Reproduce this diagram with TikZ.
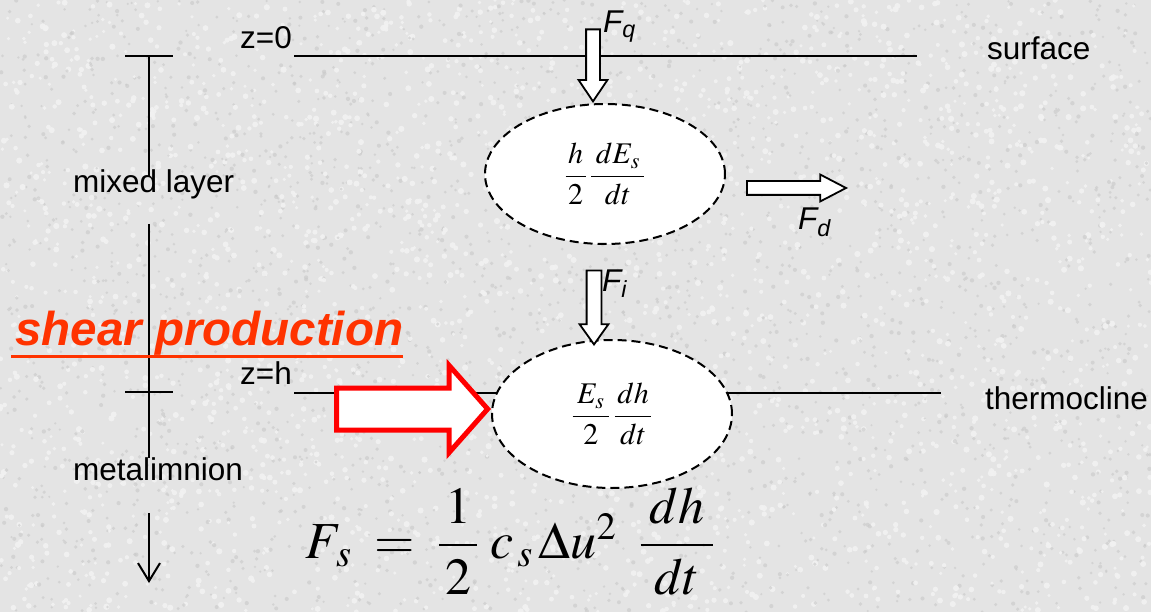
\documentclass[tikz,border=0pt]{standalone}
\usepackage{amsmath}
\usepackage{mathptmx}
\usepackage[no-math]{fontspec}
\setmainfont{Liberation Sans}
\usepackage{tikz}
\usetikzlibrary{arrows.meta,positioning,shapes.geometric,shapes.arrows}
\definecolor{paper}{HTML}{E4E4E4}
\definecolor{speckdark}{HTML}{C9C9C9}
\definecolor{specklight}{HTML}{F2F2F2}
\definecolor{ink}{HTML}{000000}
\definecolor{shearred}{HTML}{FF3300}
\definecolor{arrowred}{HTML}{FF0000}
\newcommand{\padded}[2]{\hspace{#1}#2\hspace{#1}}
\tikzset{
  txt/.style={font=\fontsize{31.5}{36}\selectfont,inner sep=0pt,text=ink},
  flux/.style={txt,font=\fontsize{31.5}{36}\selectfont\itshape},
  level/.style={draw=ink,line width=2.8pt},
  bar/.style={draw=ink,line width=2.4pt},
  budget/.style={ellipse,draw=ink,fill=white,line width=2pt,dash pattern=on 9pt off 5pt,minimum width=240pt,inner sep=0pt,font=\fontsize{30}{34}\selectfont},
  hollow/.style={single arrow,draw=ink,fill=white,line width=1.8pt,inner xsep=0pt,inner ysep=6pt,minimum width=0pt,single arrow head extend=7.5pt,anchor=tip},
  sheararrow/.style={hollow,draw=arrowred,line width=5pt,inner ysep=18.5pt,single arrow head extend=22.5pt,single arrow tip angle=97,minimum height=151pt}
}

\begin{document}
\begin{tikzpicture}[x=1pt,y=-1pt]
  \fill[paper] (0,0) rectangle (1151,612);
  \useasboundingbox (0,0) rectangle (1151,612);
  % speckled paper
  \pgfmathsetseed{17}
  \foreach \i in {1,...,2600} {
    \fill[speckdark,opacity=0.6] (rnd*1151,rnd*612) circle (1.2+rnd);
    \fill[specklight,opacity=0.9] (rnd*1151,rnd*612) circle (1.6+1.5*rnd);
  }

  % surface and thermocline
  \node[txt,anchor=base west] (z0) at (240,49) {z=0};
  \node[txt,anchor=base west] (surf) at (987,60) {surface};
  \node[txt,anchor=base west] (zh) at (240,384) {z=h};
  \node[txt,anchor=base west] (thermo) at (985,409) {thermocline};
  \coordinate (surfend) at (917,56);
  \coordinate (thermoend) at (941,393);
  \draw[level] ([xshift=2pt]z0.east |- surfend) -- (surfend);
  \draw[level] ([xshift=2pt]zh.east |- thermoend) -- (thermoend);

  % depth scale on the left
  \coordinate (top) at (149,56);
  \coordinate (mid) at (149,392);
  \draw[bar] ([xshift=-24pt]top) -- ([xshift=24pt]top);
  \draw[bar] ([xshift=-24pt]mid) -- ([xshift=24pt]mid);
  \draw[bar] (top) -- (149,176);
  \draw[bar] (149,224) -- (149,458);
  \draw[bar,line width=2pt,-{Straight Barb[length=18pt,width=22pt]}] (149,513) -- (149,583);
  \node[txt,anchor=base west] (mixed) at (73,193) {mixed layer};
  \node[txt,anchor=base west] (meta) at (73,480) {metalimnion};

  % energy budgets
  \node[budget,minimum height=140pt] (upper) at (605,174) {$\dfrac{\padded{2.5pt}{h}}{2}\,\dfrac{\padded{4.5pt}{dE_s}}{dt}$};
  \node[budget,minimum height=148pt] (lower) at (612,414) {$\dfrac{\padded{4.5pt}{E_s}}{2}\,\dfrac{\padded{2.5pt}{dh}}{dt}$};

  % fluxes
  \node[hollow,rotate=-90,minimum height=72pt,single arrow tip angle=68] (fq) at ([xshift=-12pt]upper.north) {};
  \node[hollow,minimum height=99pt,single arrow head extend=6.5pt,single arrow tip angle=55] (fd) at ([xshift=122pt,yshift=-14pt]upper.east) {};
  \node[hollow,rotate=-90,minimum height=74pt,inner ysep=6.5pt,single arrow head extend=7pt,single arrow tip angle=71] (fi) at ([xshift=-18pt,yshift=-7pt]lower.north) {};
  \node[sheararrow] (fs) at ([yshift=5pt]lower.west) {};
  \node[flux,anchor=base west] (fqlab) at (603,33) {F\textsubscript{q}};
  \node[flux,anchor=base west] (fdlab) at (798,230) {F\textsubscript{d}};
  \node[flux,anchor=base west] (filab) at (602,291) {F\textsubscript{i}};

  \node[anchor=base west,inner sep=0pt,text=shearred,font=\fontsize{47.5}{54}\selectfont\bfseries\itshape] (shear) at (15,345) {shear production};
  \draw[shearred,line width=3pt] ([xshift=-4pt,yshift=-11pt]shear.base west) -- ([yshift=-11pt]shear.base east);

  \node[anchor=west,inner sep=0pt,font=\fontsize{52}{60}\selectfont] (fsformula) at (305,541) {$F_{\,s}\;=\;\dfrac{\padded{6pt}{1}}{2}\;c_{\,s}\,\Delta u^{2}\;\;\dfrac{\padded{9pt}{dh}}{dt}$};
\end{tikzpicture}
\end{document}
